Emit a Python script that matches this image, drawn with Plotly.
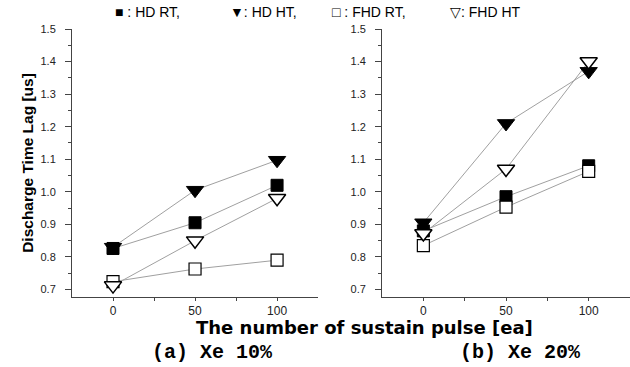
import plotly.graph_objects as go

pulses = [0, 50, 100]

# Xe 10%
xe10_hd_rt = [0.826, 0.905, 1.02]
xe10_hd_ht = [0.83, 1.005, 1.097]
xe10_fhd_rt = [0.724, 0.763, 0.79]
xe10_fhd_ht = [0.712, 0.85, 0.98]

# Xe 20%
xe20_hd_rt = [0.88, 0.985, 1.08]
xe20_hd_ht = [0.905, 1.21, 1.37]
xe20_fhd_rt = [0.835, 0.953, 1.063]
xe20_fhd_ht = [0.872, 1.07, 1.40]

y_ticks = [0.7, 0.8, 0.9, 1.0, 1.1, 1.2, 1.3, 1.4, 1.5]
x_ticks = [0, 50, 100]

legend_items = ["■ : HD RT,", "▼: HD HT,", "□ : FHD RT,", "▽: FHD HT"]
legend_x_px = [113, 228, 330, 448]

styles = [
    dict(symbol="square", color="black", line=dict(color="black", width=1), size=12),
    dict(symbol="triangle-down", color="black", line=dict(color="black", width=1), size=15),
    dict(symbol="square", color="white", line=dict(color="black", width=1.2), size=12),
    dict(symbol="triangle-down", color="white", line=dict(color="black", width=1.5), size=15),
]

panels = [
    ("x", "y", [xe10_hd_rt, xe10_hd_ht, xe10_fhd_rt, xe10_fhd_ht]),
    ("x2", "y2", [xe20_hd_rt, xe20_hd_ht, xe20_fhd_rt, xe20_fhd_ht]),
]

fig = go.Figure()
for xa, ya, series in panels:
    for s in series:
        fig.add_trace(go.Scatter(x=pulses, y=s, xaxis=xa, yaxis=ya, mode="lines",
                                 line=dict(color="#a0a0a0", width=1), showlegend=False,
                                 hoverinfo="skip"))
    for s, st in zip(series, styles):
        fig.add_trace(go.Scatter(x=pulses, y=s, xaxis=xa, yaxis=ya, mode="markers",
                                 marker=st, showlegend=False))

xcommon = dict(range=[-25, 125], tickvals=x_ticks, ticks="outside", ticklen=3, tickwidth=1,
               tickcolor="#444", showline=True, linecolor="#444", linewidth=1,
               showgrid=False, zeroline=False,
               tickfont=dict(family="Liberation Sans, Arial", size=12, color="#222"),
               minor=dict(tickvals=[25, 75], ticks="outside", ticklen=3, tickcolor="#444"))
ycommon = dict(range=[0.677, 1.5], tickvals=y_ticks, ticktext=[f"{v:.1f}" for v in y_ticks],
               ticks="outside", ticklen=6, tickwidth=1, tickcolor="#444", ticklabelstandoff=7,
               showline=True, linecolor="#444", linewidth=1, showgrid=False, zeroline=False,
               tickfont=dict(family="Liberation Sans, Arial", size=11, color="#222"),
               minor=dict(tickvals=[0.75, 0.85, 0.95, 1.05, 1.15, 1.25, 1.35, 1.45], ticks="outside",
                          ticklen=3, tickcolor="#444"))

W = 558.0
H = 267.7
annotations = []
for txt, px in zip(legend_items, legend_x_px):
    annotations.append(dict(text=txt, xref="paper", yref="paper",
                            x=(px - 72) / W, y=1 + (29 - 12) / H, xanchor="left", yanchor="middle",
                            showarrow=False,
                            font=dict(family="Liberation Sans, Arial", size=14, color="black")))
annotations += [
    dict(text="<b>The number of sustain pulse [ea]</b>", xref="paper", yref="paper",
         x=(364 - 72) / W, y=-(327 - 296.7) / H, xanchor="center", yanchor="middle",
         showarrow=False, font=dict(family="DejaVu Sans", size=18, color="black")),
    dict(text="<b>(a) Xe 10%</b>", xref="paper", yref="paper",
         x=(212 - 72) / W, y=-(352 - 296.7) / H, xanchor="center", yanchor="middle",
         showarrow=False, font=dict(family="Liberation Mono, DejaVu Sans Mono", size=20, color="black")),
    dict(text="<b>(b) Xe 20%</b>", xref="paper", yref="paper",
         x=(520 - 72) / W, y=-(352 - 296.7) / H, xanchor="center", yanchor="middle",
         showarrow=False, font=dict(family="Liberation Mono, DejaVu Sans Mono", size=20, color="black")),
]

fig.update_layout(
    width=630, height=367,
    margin=dict(l=72, r=0, t=29, b=70),
    paper_bgcolor="white", plot_bgcolor="white",
    xaxis=dict(domain=[0, 0.441], anchor="y", **xcommon),
    yaxis=dict(domain=[0, 1], anchor="x",
               title=dict(text="Discharge Time Lag [us]", standoff=3,
                          font=dict(family="Liberation Sans, Arial", size=15.5, color="black", weight="bold")),
               **ycommon),
    xaxis2=dict(domain=[0.5556, 1], anchor="y2", **xcommon),
    yaxis2=dict(domain=[0, 1], anchor="x2", **ycommon),
    annotations=annotations,
)

fig.write_html("out.html")
